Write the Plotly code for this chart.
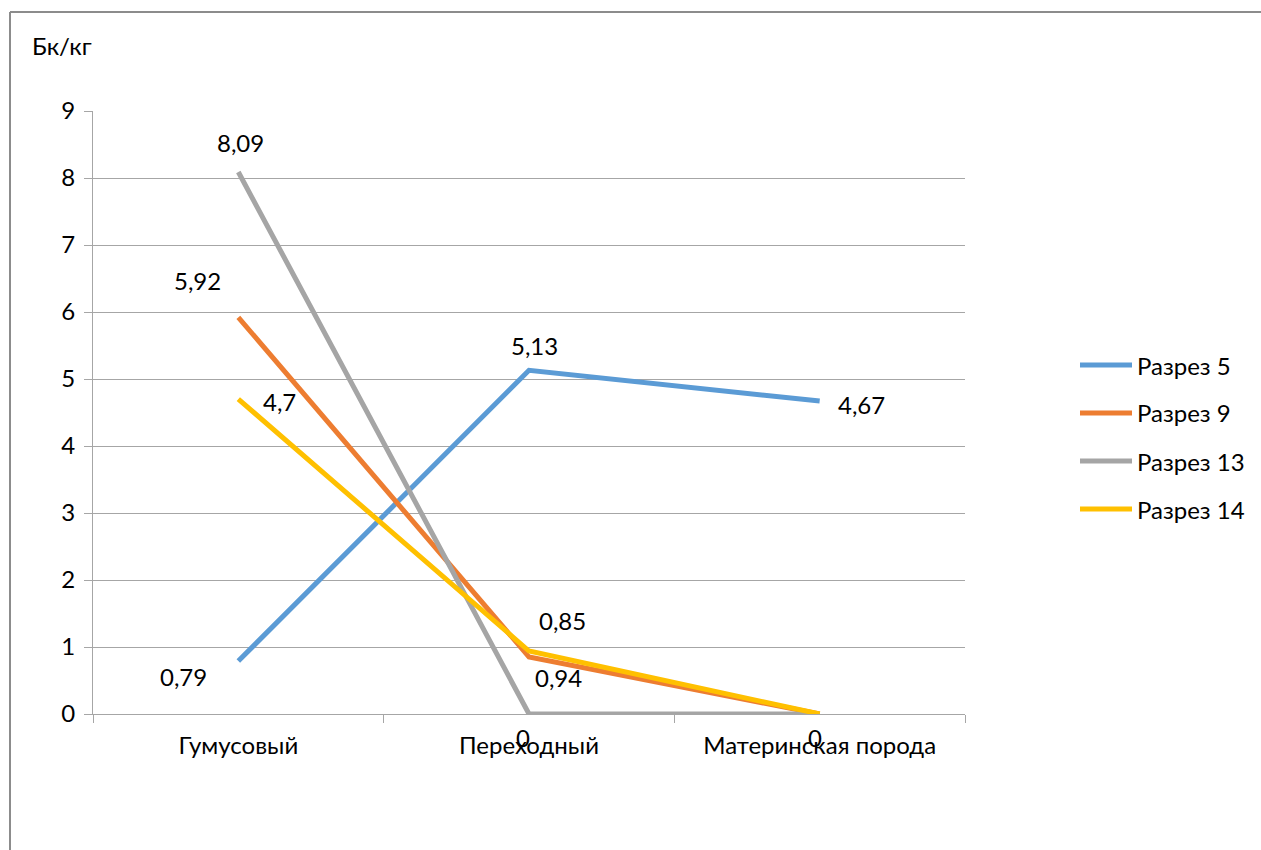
import plotly.graph_objects as go

# Horizons and activity values (Бк/кг) for each soil section
horizons = ["Гумусовый", "Переходный", "Материнская порода"]
series_names = ["Разрез 5", "Разрез 9", "Разрез 13", "Разрез 14"]
razrez_5 = [0.79, 5.13, 4.67]
razrez_9 = [5.92, 0.85, 0]
razrez_13 = [8.09, 0, 0]
razrez_14 = [4.7, 0.94, 0]
series_values = [razrez_5, razrez_9, razrez_13, razrez_14]
y_ticks = [0, 1, 2, 3, 4, 5, 6, 7, 8, 9]

colors = ["#5B9BD5", "#ED7D31", "#A5A5A5", "#FFC000"]
FONT = "Lato"
FS = 24
W, H = 1261, 850

# plot area in pixels
PX_L, PX_R, PX_T, PX_B = 93, 965, 111, 714

fig = go.Figure()
for name, vals, col in zip(series_names, series_values, colors):
    fig.add_trace(go.Scatter(
        x=horizons, y=vals, name=name, mode="lines",
        line=dict(color=col, width=5), showlegend=False,
    ))

# data labels: (series index, horizon index, pixel shift x, pixel shift y)
label_specs = [
    (0, 0, -55, -15), (0, 1, 5, 25), (0, 2, 42, -3),
    (1, 0, -41, 37), (1, 1, 33, 37),
    (2, 0, 2, 29), (2, 1, -6, -23), (2, 2, -5, -23),
    (3, 0, 41, -2), (3, 1, 29, -26),
]
annotations = []
for si, hi, dx, dy in label_specs:
    v = series_values[si][hi]
    txt = ("%g" % v).replace(".", ",")
    annotations.append(dict(
        x=horizons[hi], y=v, xref="x", yref="y", text=txt, showarrow=False,
        xshift=dx, yshift=dy, font=dict(family=FONT, size=FS, color="#000000"),
    ))

# axis unit title
annotations.append(dict(
    x=30 / W, y=1 - 45 / H, xref="paper", yref="paper", text="Бк/кг",
    showarrow=False, xanchor="left", yanchor="middle",
    font=dict(family=FONT, size=FS, color="#000000"),
))

# legend built from the series list
shapes = []
leg_y0, leg_step = 365, 48
for i, (name, col) in enumerate(zip(series_names, colors)):
    yc = 1 - (leg_y0 + i * leg_step) / H
    shapes.append(dict(type="line", xref="paper", yref="paper",
                       x0=1080 / W, x1=1132 / W, y0=yc, y1=yc,
                       line=dict(color=col, width=5)))
    annotations.append(dict(
        x=1135 / W, y=yc, xref="paper", yref="paper", text=name,
        showarrow=False, xanchor="left", yanchor="middle",
        font=dict(family=FONT, size=FS, color="#000000"),
    ))

# chart frame (top and left edges)
frame_col = "#8C8C8C"
shapes.append(dict(type="line", xref="paper", yref="paper",
                   x0=10 / W, x1=1, y0=1 - 12 / H, y1=1 - 12 / H,
                   line=dict(color=frame_col, width=2)))
shapes.append(dict(type="line", xref="paper", yref="paper",
                   x0=10 / W, x1=10 / W, y0=0, y1=1 - 12 / H,
                   line=dict(color=frame_col, width=2)))

grid_col = "#A6A6A6"
fig.update_layout(
    template="none",
    width=W, height=H, autosize=False,
    margin=dict(l=0, r=0, t=0, b=0, pad=0),
    paper_bgcolor="white", plot_bgcolor="white",
    font=dict(family=FONT, size=FS, color="#000000"),
    annotations=annotations, shapes=shapes,
    xaxis=dict(
        domain=[PX_L / W, PX_R / W], type="category", automargin=False,
        range=[-0.5, 2.5], showgrid=False, zeroline=False,
        showline=True, linecolor=grid_col, linewidth=1,
        ticks="outside", tickson="boundaries", ticklen=8,
        tickcolor=grid_col, tickwidth=1, ticklabelstandoff=10,
        tickfont=dict(family=FONT, size=FS, color="#000000"),
    ),
    yaxis=dict(
        domain=[1 - PX_B / H, 1 - PX_T / H], range=[0, 9], automargin=False,
        tickvals=y_ticks, showgrid=True, gridcolor=grid_col, gridwidth=1,
        zeroline=False, showline=True, linecolor=grid_col, linewidth=1,
        ticks="outside", ticklen=8, tickcolor=grid_col, tickwidth=1,
        ticklabelstandoff=4,
        tickfont=dict(family=FONT, size=FS, color="#000000"),
    ),
)

fig.write_html("out.html")
